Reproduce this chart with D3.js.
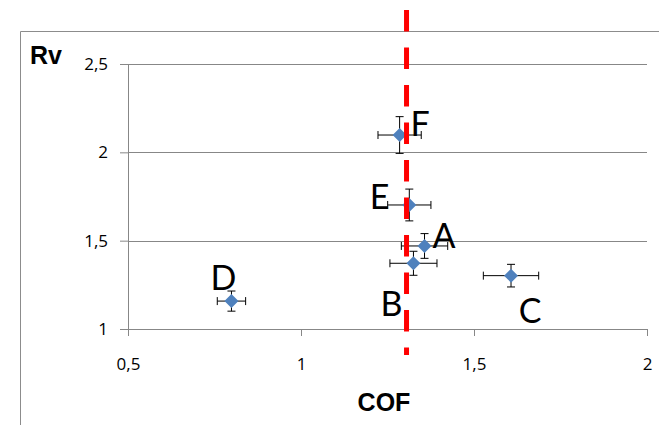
<!DOCTYPE html>
<html>
<head>
<meta charset="utf-8">
<script src="https://cdn.jsdelivr.net/npm/d3@7/dist/d3.min.js"></script>
<style>
  html, body { margin: 0; padding: 0; background: #fff; }
  svg { display: block; }
</style>
</head>
<body>
<svg id="chart" width="659" height="425"></svg>
<script>
// Samples: friction coefficient (COF) vs Rv, with standard deviations
const names = ["A", "B", "C", "D", "E", "F"];
const cof   = [1.357, 1.325, 1.607, 0.799, 1.313, 1.285];
const rv    = [1.470, 1.372, 1.302, 1.158, 1.702, 2.098];
const cofSd = [0.067, 0.068, 0.080, 0.041, 0.0625, 0.0625];
const rvSd  = [0.070, 0.068, 0.064, 0.057, 0.090, 0.104];

const xTicks = [0.5, 1, 1.5, 2];
const yTicks = [1, 1.5, 2, 2.5];
const cofLimit = 1.305;

const fmt = v => String(v).replace(".", ",");

// label placement around each marker (layout only)
const labelPlace = {
  A: { anchor: "start",  dx: 8,   dy: 2 },
  B: { anchor: "end",    dx: -11, dy: 53 },
  C: { anchor: "middle", dx: 19,  dy: 47 },
  D: { anchor: "middle", dx: -8,  dy: -11 },
  E: { anchor: "end",    dx: -20, dy: 4 },
  F: { anchor: "start",  dx: 11,  dy: 1 }
};

const svg = d3.select("#chart");
const grey = "#878787";

const x = d3.scaleLinear().domain([0.5, 2]).range([128, 647]);
const y = d3.scaleLinear().domain([1, 2.5]).range([329, 64]);

// outer chart frame (left and top edges)
svg.append("path")
  .attr("d", "M20.5,425 L20.5,31.5 L659,31.5")
  .attr("fill", "none").attr("stroke", "#8c8c8c").attr("stroke-width", 1);

// horizontal gridlines
svg.append("g").selectAll("line")
  .data(yTicks.filter(t => t !== 1))
  .join("line")
  .attr("x1", x(0.5)).attr("x2", x(2))
  .attr("y1", d => Math.round(y(d)) + 0.5).attr("y2", d => Math.round(y(d)) + 0.5)
  .attr("stroke", grey).attr("stroke-width", 1);

// y axis
const yAxis = svg.append("g")
  .attr("transform", `translate(${x(0.5)},0)`)
  .call(d3.axisLeft(y).tickValues(yTicks).tickFormat(fmt).tickSize(8).tickPadding(12));
// x axis
const xAxis = svg.append("g")
  .attr("transform", `translate(0,${y(1)})`)
  .call(d3.axisBottom(x).tickValues(xTicks).tickFormat(fmt).tickSize(7).tickPadding(22));

[yAxis, xAxis].forEach(a => {
  a.select(".domain").attr("stroke", grey);
  a.selectAll(".tick line").attr("stroke", grey);
  a.selectAll("text")
    .attr("fill", "#000")
    .style("font-family", "'Open Sans', sans-serif")
    .style("font-size", "17px");
});
yAxis.select(".domain").attr("d", `M0.5,${y(1)}V${y(2.5)}`);
xAxis.select(".domain").attr("d", `M${x(0.5)},0.5H${x(2)}`);

const pts = names.map((n, i) => ({ n, x: cof[i], y: rv[i], ex: cofSd[i], ey: rvSd[i] }));

// error bars
const cap = 4;
const eb = svg.append("g").attr("stroke", "#000").attr("stroke-width", 1).attr("fill", "none");
pts.forEach(p => {
  const cx = x(p.x), cy = y(p.y);
  const x0 = x(p.x - p.ex), x1 = x(p.x + p.ex);
  const y0 = y(p.y + p.ey), y1 = y(p.y - p.ey);
  eb.append("path").attr("d",
    `M${x0},${cy}H${x1}M${x0},${cy - cap}V${cy + cap}M${x1},${cy - cap}V${cy + cap}` +
    `M${cx},${y0}V${y1}M${cx - cap},${y0}H${cx + cap}M${cx - cap},${y1}H${cx + cap}`);
});

// diamond markers
svg.append("g").selectAll("path")
  .data(pts)
  .join("path")
  .attr("transform", d => `translate(${x(d.x)},${y(d.y)})`)
  .attr("d", "M0,-7L7,0L0,7L-7,0Z")
  .attr("fill", "#4F81BD");

// point letters
svg.append("g").selectAll("text")
  .data(pts)
  .join("text")
  .attr("x", d => x(d.x) + labelPlace[d.n].dx)
  .attr("y", d => y(d.y) + labelPlace[d.n].dy)
  .attr("text-anchor", d => labelPlace[d.n].anchor)
  .style("font-family", "Lato, sans-serif")
  .style("font-size", "34px")
  .attr("fill", "#000")
  .text(d => d.n);

// axis titles
svg.append("text")
  .attr("x", 30).attr("y", 64)
  .style("font-family", "'Liberation Sans', Arial, sans-serif")
  .style("font-weight", "bold").style("font-size", "25px")
  .text("Rv");
svg.append("text")
  .attr("x", 384).attr("y", 411).attr("text-anchor", "middle")
  .style("font-family", "'Liberation Sans', Arial, sans-serif")
  .style("font-weight", "bold").style("font-size", "25px")
  .text("COF");

// COF limit line
svg.append("line")
  .attr("x1", x(cofLimit)).attr("x2", x(cofLimit))
  .attr("y1", 10).attr("y2", 355)
  .attr("stroke", "#FF0000").attr("stroke-width", 5)
  .attr("stroke-dasharray", "21.5 16");
</script>
</body>
</html>
